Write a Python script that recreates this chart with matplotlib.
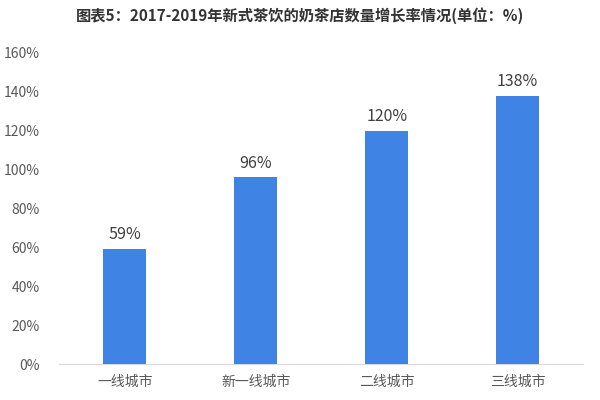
import matplotlib
matplotlib.use("Agg")
import matplotlib.pyplot as plt
from matplotlib.ticker import FuncFormatter

plt.rcParams['font.family'] = ['Noto Sans CJK SC', 'DejaVu Sans']

categories = ["一线城市", "新一线城市", "二线城市", "三线城市"]
values = [59, 96, 120, 138]
labels = ["59%", "96%", "120%", "138%"]
title = "图表5：2017-2019年新式茶饮的奶茶店数量增长率情况(单位：%)"

fig = plt.figure(figsize=(6, 4), dpi=100)
ax = fig.add_axes([0.099, 0.09, 0.873, 0.7775])
x = range(len(categories))
ax.bar(x, values, width=0.33, color="#3F84E5", zorder=3)
for xi, v, lab in zip(x, values, labels):
    ax.text(xi, v + 3, lab, ha="center", va="bottom", fontsize=11.5, color="#404040")

ax.set_ylim(0, 160)
ax.set_xlim(-0.5, 3.5)
ax.set_yticks(range(0, 161, 20))
ax.yaxis.set_major_formatter(FuncFormatter(lambda v, p: f"{int(v)}%"))
ax.set_xticks(list(x))
ax.set_xticklabels(categories)
ax.tick_params(axis="both", length=0, labelsize=10, colors="#595959")
ax.tick_params(axis="x", pad=8)
ax.tick_params(axis="y", pad=14)
for s in ["top", "right", "left"]:
    ax.spines[s].set_visible(False)
ax.spines["bottom"].set_color("#d9d9d9")

fig.text(0.5, 0.96, title, ha="center", va="center", fontsize=11, fontweight="bold", color="#333333")
fig.savefig("out.png", dpi=100, facecolor="white")
